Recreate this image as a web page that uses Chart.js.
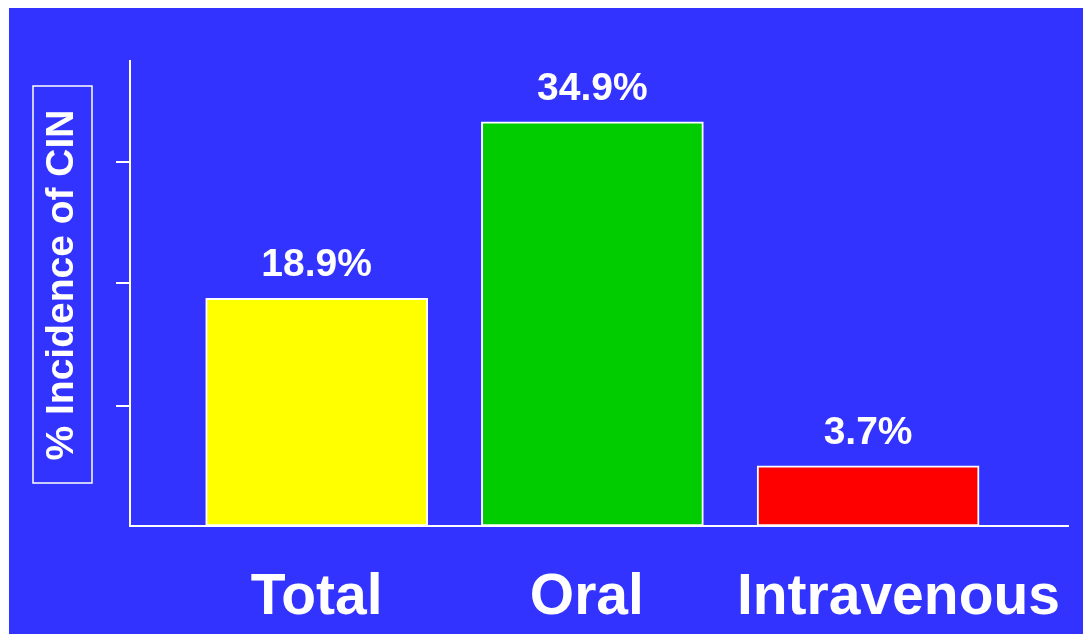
<!DOCTYPE html>
<html>
<head>
<meta charset="utf-8">
<script src="https://cdn.jsdelivr.net/npm/chart.js@4.4.1/dist/chart.umd.min.js"></script>
<style>
    body { margin: 0; background: #ffffff; }
    #panel {
        position: absolute;
        left: 9px;
        top: 8px;
        width: 1074px;
        height: 626px;
        background: #3333ff;
    }
</style>
</head>
<body>
<div id="panel"><canvas id="cinChart" width="1074" height="626"></canvas></div>
<script>
// CIN 發生率
const categories = ['Total', 'Oral', 'Intravenous'];
const incidence = [18.9, 34.9, 3.7];
const barColors = ['#ffff00', '#00cc00', '#ff0000'];
const yTickValues = [9.15, 20.25, 31.3];

const axisTitle = '% Incidence of CIN';
const fontFamily = '"Liberation Sans", Arial, sans-serif';

// 類別名稱在 x 軸上的位置
const labelSlots = [0, 0.98, 2.11];

// 長條上方的百分比
const valueLabels = {
    id: 'valueLabels',
    afterDatasetsDraw(chart) {
        const ctx = chart.ctx;
        const meta = chart.getDatasetMeta(0);
        ctx.save();
        ctx.fillStyle = '#ffffff';
        ctx.font = 'bold 39px ' + fontFamily;
        ctx.textAlign = 'center';
        ctx.textBaseline = 'alphabetic';
        meta.data.forEach((bar, i) => {
            ctx.fillText(incidence[i].toFixed(1) + '%', bar.x, bar.y - 22);
        });
        ctx.restore();
    }
};

// 左側加框的 y 軸標題
const boxedTitle = {
    id: 'boxedTitle',
    afterDraw(chart) {
        const ctx = chart.ctx;
        ctx.save();
        ctx.strokeStyle = '#ffffff';
        ctx.lineWidth = 1.5;
        ctx.strokeRect(24, 78, 59, 397);
        ctx.translate(64, 277);
        ctx.rotate(-Math.PI / 2);
        ctx.fillStyle = '#ffffff';
        ctx.font = 'bold 39px ' + fontFamily;
        ctx.textAlign = 'center';
        ctx.textBaseline = 'alphabetic';
        ctx.fillText(axisTitle, 0, 0);
        ctx.restore();
    }
};

const ctx = document.getElementById('cinChart').getContext('2d');
new Chart(ctx, {
    type: 'bar',
    data: {
        datasets: [{
            data: categories.map((c, i) => ({ x: i, y: incidence[i] })),
            backgroundColor: barColors,
            borderColor: '#ffffff',
            borderWidth: 2,
            borderSkipped: false,
            barThickness: 222,
            base: -1.75
        }]
    },
    options: {
        responsive: false,
        animation: false,
        layout: {
            padding: { left: 0, right: 15, top: 53, bottom: 0 }
        },
        scales: {
            x: {
                type: 'linear',
                min: -0.677,
                max: 2.725,
                offset: false,
                grid: { display: false, drawTicks: false, offset: false },
                border: { color: '#ffffff', width: 2 },
                afterBuildTicks(scale) {
                    scale.ticks = labelSlots.map(v => ({ value: v }));
                },
                afterFit(scale) {
                    scale.height = 108;
                    scale.paddingLeft = 0;
                    scale.paddingRight = 0;
                },
                ticks: {
                    color: '#ffffff',
                    padding: 38,
                    maxRotation: 0,
                    autoSkip: false,
                    font: { family: fontFamily, size: 57, weight: 'bold' },
                    callback: (value, index) => categories[index]
                }
            },
            y: {
                min: -1.75,
                max: 40.42,
                grid: {
                    drawOnChartArea: false,
                    color: '#ffffff',
                    lineWidth: 2,
                    tickLength: 14
                },
                border: { color: '#ffffff', width: 2 },
                afterBuildTicks(scale) {
                    scale.ticks = yTickValues.map(v => ({ value: v }));
                },
                afterFit(scale) {
                    scale.width = 121;
                },
                ticks: { display: false }
            }
        },
        plugins: {
            legend: { display: false },
            tooltip: { enabled: false }
        }
    },
    plugins: [valueLabels, boxedTitle]
});
</script>
</body>
</html>
